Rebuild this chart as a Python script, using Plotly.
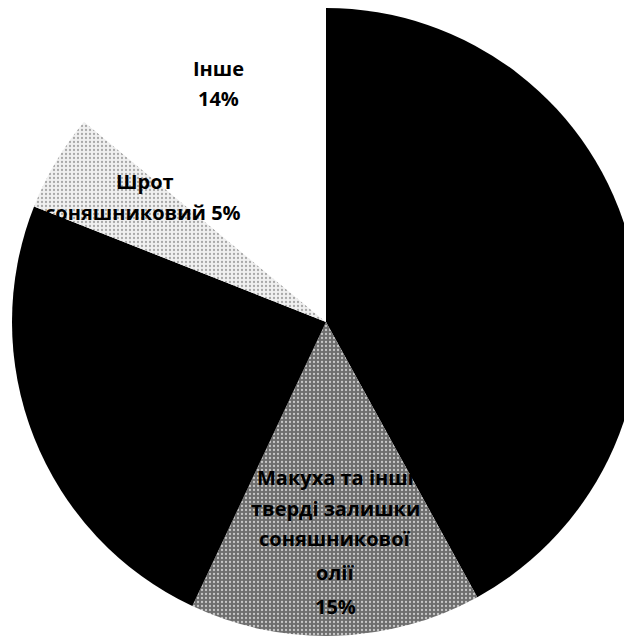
import plotly.graph_objects as go

# slice data (clockwise from 12 o'clock)
labels = ["Олія соняшникова", "Макуха та інші тверді залишки соняшникової олії",
          "Зернові", "Шрот соняшниковий", "Інше"]
values = [42, 15, 24, 5, 14]
colors = ["#000000", "#6e6e6e", "#000000", "#f0f0f0", "#ffffff"]

# visible label lines (text only)
label_lines = {
    1: ["Макуха та інші", "тверді залишки", "соняшникової", "олії", "15%"],
    3: ["Шрот", "соняшниковий 5%"],
    4: ["Інше", "14%"],
}

OFF = 8
W, H = 632, 637

fig = go.Figure(go.Pie(
    labels=labels,
    values=values,
    sort=False,
    direction="clockwise",
    rotation=0,
    marker=dict(colors=colors, line=dict(width=0),
                pattern=dict(shape=["", ".", "", ".", ""],
                             fgcolor=["#000", "#c8c8c8", "#000", "#a8a8a8", "#fff"],
                             bgcolor=colors, size=4, solidity=0.25)),
    textinfo="none",
    domain=dict(x=[4 / W, 1.0], y=[1 - 628 / H, 1.0]),
    showlegend=False,
    hoverinfo="skip",
))

# label line positions in screenshot pixels (centre x, centre y)
line_pos = {
    1: [(335, 478), (335, 508), (335, 538), (335, 572), (335, 606)],
    3: [(145, 181), (143, 212)],
    4: [(218, 69), (218, 99)],
}

annotations = []
for idx, lines in label_lines.items():
    for txt, (sx, sy) in zip(lines, line_pos[idx]):
        annotations.append(dict(
            text=txt, x=(sx - OFF) / W, y=1 - (sy - OFF) / H,
            xref="paper", yref="paper", showarrow=False,
            xanchor="center", yanchor="middle",
            font=dict(family="Open Sans", size=20, color="#000000", weight="bold"),
        ))

fig.update_layout(
    width=W, height=H,
    margin=dict(l=0, r=0, t=0, b=0),
    paper_bgcolor="white",
    plot_bgcolor="white",
    annotations=annotations,
)

fig.write_html("out.html")
